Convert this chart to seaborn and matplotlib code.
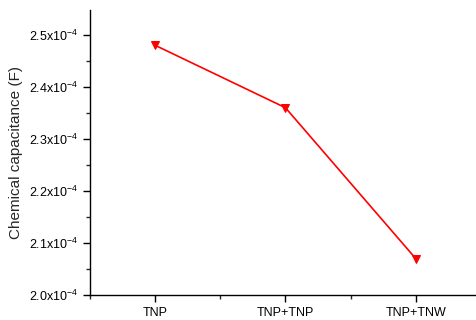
import matplotlib
matplotlib.use("Agg")
import matplotlib.pyplot as plt
import seaborn as sns
import pandas as pd
from matplotlib.ticker import MultipleLocator, FuncFormatter

categories = ["TNP", "TNP+TNP", "TNP+TNW"]
capacitance = [2.48e-4, 2.36e-4, 2.07e-4]

sns.set_style("ticks")
plt.rcParams['font.family'] = ['Liberation Sans', 'DejaVu Sans']
plt.rcParams['mathtext.fontset'] = 'custom'
plt.rcParams['mathtext.rm'] = 'Liberation Sans'
plt.rcParams['mathtext.it'] = 'Liberation Sans'

df = pd.DataFrame({"x": range(len(categories)), "y": capacitance})

fig = plt.figure(figsize=(4.77, 3.20), dpi=100)
ax = fig.add_axes([0.1887, 0.078, 0.8113, 0.891])
sns.lineplot(data=df, x="x", y="y", ax=ax, color="#ff0000", lw=1.2,
             marker="v", markersize=6, markeredgecolor="#ff0000", markerfacecolor="#ff0000")

ax.set_xlim(-0.5, 2.47)
ax.set_ylim(2.0e-4, 2.548e-4)
ax.set_xticks(range(len(categories)))
ax.set_xticklabels(categories)
ax.xaxis.set_minor_locator(MultipleLocator(1.0, offset=0.5))
ax.yaxis.set_major_locator(MultipleLocator(0.1e-4))
ax.yaxis.set_minor_locator(MultipleLocator(0.05e-4))
ax.yaxis.set_major_formatter(FuncFormatter(lambda v, p: r"%.1fx10$^{-4}$" % (v * 1e4)))

for s in ["top", "right"]:
    ax.spines[s].set_visible(False)
for s in ["left", "bottom"]:
    ax.spines[s].set_linewidth(1.0)
    ax.spines[s].set_color("black")

ax.tick_params(axis="both", which="major", direction="out", length=5, width=1, labelsize=9, colors="black")
ax.tick_params(axis="both", which="minor", direction="out", length=3, width=1)
ax.set_xlabel("")
ax.set_ylabel("Chemical capacitance (F)", fontsize=11)

fig.savefig("out.png", dpi=100)
